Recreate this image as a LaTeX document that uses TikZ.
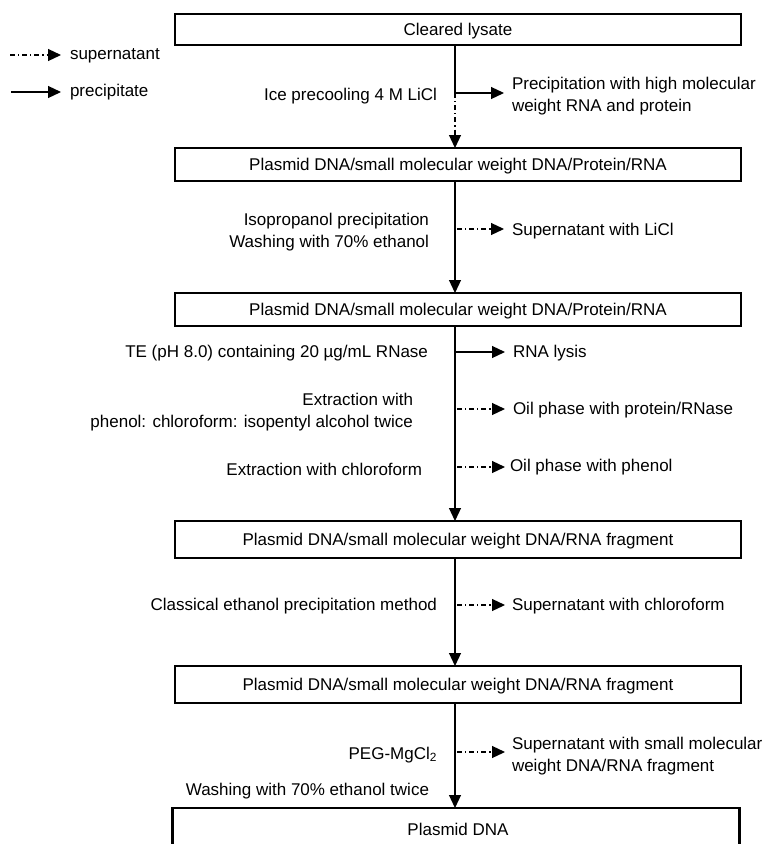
\documentclass[tikz,border=0pt]{standalone}
\usepackage{fontspec}
\setmainfont{Liberation Sans}
\usetikzlibrary{arrows.meta}
\begin{document}
\begin{tikzpicture}[x=1pt,y=-1pt,
  every node/.style={inner sep=0pt, outer sep=0pt, font=\fontsize{17}{21.5}\selectfont},
  one/.style={text height=12pt, text depth=3.5pt},
  stepbox/.style={draw, line width=2.4pt, minimum width=566pt, text height=12pt, text depth=-1.5pt},
  sol/.style={line width=1.2pt, -{Triangle[length=13pt,width=12pt]}},
  ddl/.style={line width=1.2pt, dash pattern=on 5pt off 3pt on 1.2pt off 3pt},
  dd/.style={ddl, -{Triangle[length=13pt,width=12pt]}},
]
\useasboundingbox (0,0) rectangle (766,844);
\coordinate (vx) at (455,0);
% boxes
\node[stepbox, minimum height=31pt] (b1) at (458,29.5) {Cleared lysate};
\node[stepbox, minimum height=33pt] (b2) at (458,164.5) {Plasmid DNA/small molecular weight DNA/Protein/RNA};
\node[stepbox, minimum height=33pt] (b3) at (458,309.5) {Plasmid DNA/small molecular weight DNA/Protein/RNA};
\node[stepbox, minimum height=37pt] (b4) at (458,539.5) {Plasmid DNA/small molecular weight DNA/RNA fragment};
\node[stepbox, minimum height=37pt] (b5) at (458,684.5) {Plasmid DNA/small molecular weight DNA/RNA fragment};
\node[draw, line width=2.4pt, minimum width=567pt, minimum height=60pt, anchor=north] (b6) at (456,808) {};
\node[one] (b6t) at (458,831) {Plasmid DNA};
% legend
\coordinate (ls) at (10,55);
\coordinate (lp) at (11,92);
\node[one, anchor=west] (lsup) at (70,55) {supernatant};
\node[one, anchor=west] (lpre) at (70,92) {precipitate};
\draw[dd, shorten >=9pt] (ls) -- (lsup.west |- ls);
\draw[sol, shorten >=9pt] (lp) -- (lpre.west |- lp);
% junctions on the main line
\coordinate (j1) at (455,93);
\coordinate (j2) at (455,229);
\coordinate (j3) at (455,352);
\coordinate (j4) at (455,409);
\coordinate (j5) at (455,467);
\coordinate (j6) at (455,605);
\coordinate (j7) at (455,752);
% main vertical line
\draw[line width=1.2pt] (b1.south -| vx) -- (j1);
\draw[dd] (j1) -- (b2.north -| vx);
\draw[sol] (b2.south -| vx) -- (b3.north -| vx);
\draw[sol] (b3.south -| vx) -- (b4.north -| vx);
\draw[sol] (b4.south -| vx) -- (b5.north -| vx);
\draw[sol] (b5.south -| vx) -- (b6.north -| vx);
% left labels
\node[one, anchor=east] (l1) at (437,96) {Ice precooling 4 M LiCl};
\node[anchor=east, align=right] (l2) at (429,232) {Isopropanol precipitation\\Washing with 70\% ethanol};
\node[one, anchor=east] (l3) at (428,353) {TE (pH 8.0) containing 20 µg/mL RNase};
\node[anchor=east, align=right] (l4) at (413,412) {Extraction with\\phenol: chloroform: isopentyl alcohol twice};
\node[one, anchor=east] (l5) at (422,471) {Extraction with chloroform};
\node[one, anchor=east] (l6) at (437,606) {Classical ethanol precipitation method};
\node[one, anchor=east] (l7) at (437,755) {PEG-MgCl\textsubscript{2}};
\node[one, anchor=east] (l8) at (429,791) {Washing with 70\% ethanol twice};
% right labels
\node[anchor=west, align=left] (r1) at (512,96) {Precipitation with high molecular\\weight RNA and protein};
\node[one, anchor=west] (r2) at (512,231) {Supernatant with LiCl};
\node[one, anchor=west] (r3) at (513,353) {RNA lysis};
\node[one, anchor=west] (r4) at (513,410) {Oil phase with protein/RNase};
\node[one, anchor=west] (r5) at (510,467) {Oil phase with phenol};
\node[one, anchor=west] (r6) at (512,606) {Supernatant with chloroform};
\node[anchor=west, align=left] (r7) at (512,756) {Supernatant with small molecular\\weight DNA/RNA fragment};
% side arrows
\draw[sol, shorten >=8pt] (j1) -- (r1.west |- j1);
\draw[dd, shorten <=2pt, shorten >=8pt] (j2) -- (r2.west |- j2);
\draw[sol, shorten >=8pt] (j3) -- (r3.west |- j3);
\draw[dd, shorten <=2pt, shorten >=8pt] (j4) -- (r4.west |- j4);
\draw[dd, shorten <=2pt, shorten >=5pt] (j5) -- (r5.west |- j5);
\draw[dd, shorten <=2pt, shorten >=7pt] (j6) -- (r6.west |- j6);
\draw[dd, shorten <=2pt, shorten >=7pt] (j7) -- (r7.west |- j7);
\end{tikzpicture}
\end{document}
